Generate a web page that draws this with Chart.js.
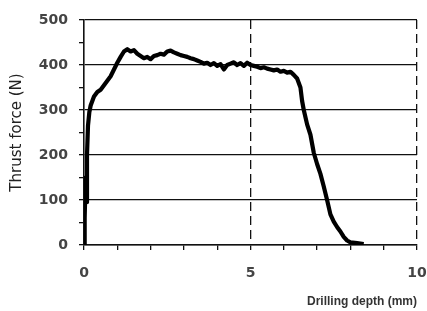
<!DOCTYPE html>
<html>
<head>
<meta charset="utf-8">
<script src="https://cdn.jsdelivr.net/npm/chart.js@4"></script>
<style>
    html, body { margin: 0; padding: 0; background: #fff; }
    #wrap { width: 427px; height: 311px; }
</style>
</head>
<body>
<div id="wrap"><canvas id="thrustChart" width="427" height="311"></canvas></div>
<script>
// Thrust force vs drilling depth.
const depthMm = [
    0, 0.02, 0.05, 0.07, 0.09, 0.12, 0.16, 0.2, 0.3, 0.4, 0.5, 0.6, 0.7, 0.8, 0.9,
    1.0, 1.1, 1.2, 1.3, 1.4, 1.5, 1.6, 1.7, 1.8, 1.9, 2.0, 2.1, 2.2, 2.3, 2.4,
    2.5, 2.6, 2.7, 2.8, 2.9, 3.0, 3.1, 3.2, 3.3, 3.4, 3.5, 3.6, 3.7, 3.8, 3.9,
    4.0, 4.1, 4.2, 4.3, 4.4, 4.5, 4.6, 4.7, 4.8, 4.9, 5.0, 5.1, 5.2, 5.3, 5.4,
    5.5, 5.6, 5.7, 5.8, 5.9, 6.0, 6.1, 6.2, 6.3, 6.4, 6.5, 6.55, 6.6, 6.7, 6.8,
    6.9, 7.0, 7.1, 7.2, 7.3, 7.4, 7.5, 7.6, 7.7, 7.8, 7.9, 8.0, 8.2, 8.4
];
const thrustN = [
    0, 60, 150, 95, 200, 265, 295, 310, 330, 340, 345, 355, 365, 375, 390,
    405, 418, 430, 435, 430, 433, 425, 420, 415, 418, 413, 420, 422, 425, 423,
    430, 432, 428, 425, 422, 420, 418, 415, 413, 410, 407, 403, 405, 400, 404,
    398, 402, 390, 400, 403, 406, 400, 404, 398, 405, 400, 398, 396, 393, 395,
    392, 390, 388, 390, 385, 387, 383, 385, 378, 370, 350, 320, 300, 268, 245,
    205, 180, 158, 130, 100, 68, 52, 40, 30, 18, 10, 6, 4, 2
];
const xTickLabels = [0, 5, 10];
const yTickLabels = [0, 100, 200, 300, 400, 500];

const tickFont = { family: '"DejaVu Sans", sans-serif', size: 14, weight: 'bold' };

new Chart(document.getElementById('thrustChart').getContext('2d'), {
    type: 'line',
    data: {
        datasets: [{
            data: depthMm.map((d, i) => ({ x: d, y: thrustN[i] })),
            borderColor: '#000', borderWidth: 4.2, pointRadius: 0, tension: 0,
            fill: false, borderJoinStyle: 'round'
        }]
    },
    options: {
        responsive: false, animation: false,
        layout: { padding: { top: 20, right: 0, left: 0, bottom: 0 } },
        plugins: { legend: { display: false }, tooltip: { enabled: false } },
        scales: {
            x: {
                type: 'linear', min: 0, max: 10,
                afterFit: s => { s.height = 66; s.paddingRight = 10; },
                ticks: {
                    stepSize: 1, autoSkip: false, maxRotation: 0, padding: 15,
                    color: '#444', font: tickFont,
                    callback: v => xTickLabels.includes(v) ? String(v) : ''
                },
                grid: {
                    color: c => (c.tick && c.tick.value > 0 && c.tick.value % 5 === 0) ? '#111' : 'transparent',
                    lineWidth: 1.3, tickColor: '#111', tickLength: 5, tickWidth: 1.3
                },
                border: { color: '#111', width: 1.6, dash: [9, 5] },
                title: {
                    display: true, text: 'Drilling depth (mm)', align: 'end', color: '#333',
                    font: { family: '"Liberation Sans", Arial, sans-serif', size: 12, weight: 'bold' },
                    padding: { top: 0, bottom: 2 }
                }
            },
            y: {
                min: 0, max: 500,
                afterFit: s => { s.width = 84; },
                ticks: {
                    stepSize: 50, autoSkip: false, padding: 11,
                    color: '#444', font: tickFont,
                    callback: v => yTickLabels.includes(v) ? String(v) : ''
                },
                grid: {
                    color: c => (c.tick && c.tick.value % 100 === 0) ? '#111' : 'transparent',
                    lineWidth: 1.3, tickColor: '#111', tickLength: 5, tickWidth: 1.3
                },
                border: { color: '#111', width: 1.6 },
                title: {
                    display: true, text: 'Thrust force (N)', color: '#222',
                    font: { family: '"DejaVu Sans", sans-serif', size: 15 },
                    padding: { top: 8, bottom: 0 }
                }
            }
        }
    }
});
</script>
</body>
</html>
